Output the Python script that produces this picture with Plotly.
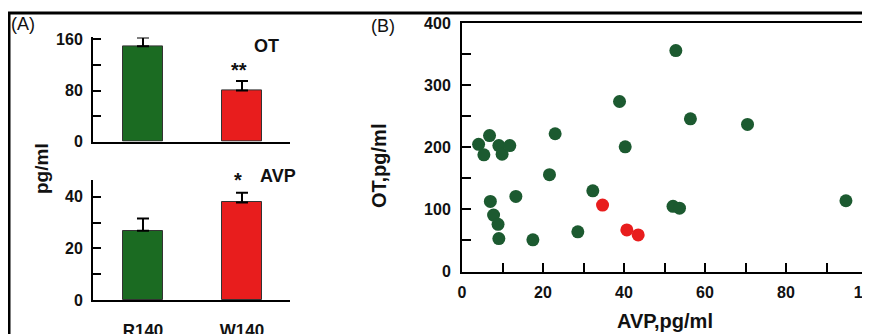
import plotly.graph_objects as go

# page body has an 8px margin, so the figure is drawn 8px smaller and offset
OFF = 8
W, H = 870 - OFF, 334 - OFF

# ---- data ----
groups = ["R140", "W140"]
ot_mean = [149, 80]
ot_err = [14, 15]
avp_mean = [26.8, 37.8]
avp_err = [4.8, 3.8]
bar_colors = ["#1b6b22", "#e81d1d"]

green_avp = [4.1, 5.4, 6.8, 9.1, 9.9, 11.8, 7.0, 7.8, 8.9, 9.1, 13.3, 17.5, 21.6, 23.0,
             28.6, 32.3, 38.9, 40.3, 52.8, 52.1, 53.7, 56.4, 70.5, 94.8]
green_ot = [205, 188, 219, 203, 189, 203, 113, 91, 76, 53, 121, 51, 156, 222,
            64, 130, 274, 201, 356, 105, 102, 246, 237, 114]
red_avp = [34.7, 40.7, 43.5]
red_ot = [107, 67, 59]

xpos = [1, 2]

def px_x(p):
    return (p - OFF) / W

def px_y(p):
    return 1 - (p - OFF) / H

fig = go.Figure()

fig.add_trace(go.Bar(x=xpos, y=ot_mean, width=0.4, marker=dict(color=bar_colors, line=dict(color="#333", width=1)),
                     error_y=dict(type="data", array=ot_err, arrayminus=[0, 0], symmetric=False,
                                  color="black", thickness=2, width=6),
                     xaxis="x", yaxis="y", showlegend=False))
fig.add_trace(go.Bar(x=xpos, y=avp_mean, width=0.4, marker=dict(color=bar_colors, line=dict(color="#333", width=1)),
                     error_y=dict(type="data", array=avp_err, arrayminus=[0, 0], symmetric=False,
                                  color="black", thickness=2, width=6),
                     xaxis="x2", yaxis="y2", showlegend=False))
fig.add_trace(go.Scatter(x=green_avp, y=green_ot, mode="markers",
                         marker=dict(color="#1c5a30", size=13), xaxis="x3", yaxis="y3", showlegend=False))
fig.add_trace(go.Scatter(x=red_avp, y=red_ot, mode="markers",
                         marker=dict(color="#e81d1d", size=13), xaxis="x3", yaxis="y3", showlegend=False))

FAM = "Liberation Sans"
tfA = dict(family=FAM, size=16, color="#111", weight="bold")
tfB = dict(family=FAM, size=16, color="#111", weight="bold")
axcommon = dict(showline=True, linecolor="black", linewidth=2, showgrid=False, zeroline=False)

xa_dom = [px_x(93), px_x(290)]
fig.update_layout(
    width=W, height=H, margin=dict(l=0, r=0, t=0, b=0, autoexpand=False),
    paper_bgcolor="white", plot_bgcolor="white",
    font=dict(family=FAM, color="#111"),
    bargap=0,
    xaxis=dict(domain=xa_dom, range=[0.495, 2.485], anchor="y", showticklabels=False, ticks="", **axcommon),
    yaxis=dict(domain=[px_y(141.7), px_y(37.4)], range=[0, 163], anchor="x",
               tickvals=[0, 40, 80, 120, 160], ticktext=["0", "", "80", "", "160"],
               ticks="inside", ticklen=8, tickwidth=2, tickcolor="black",
               tickfont=tfA, ticklabelstandoff=5, **axcommon),
    xaxis2=dict(domain=xa_dom, range=[0.495, 2.485], anchor="y2", tickvals=xpos, ticktext=groups, ticks="",
                tickfont=dict(family=FAM, size=17, color="#111", weight="bold"),
                ticklabelstandoff=14, ticklabeloverflow="allow", **axcommon),
    yaxis2=dict(domain=[px_y(300), px_y(180)], range=[0, 46.5], anchor="x2",
                tickvals=[0, 10, 20, 30, 40], ticktext=["0", "", "20", "", "40"],
                ticks="inside", ticklen=8, tickwidth=2, tickcolor="black",
                tickfont=tfA, ticklabelstandoff=5, **axcommon),
    xaxis3=dict(domain=[px_x(462), px_x(867)], range=[0, 100], anchor="y3",
                tickvals=[0, 10, 20, 30, 40, 50, 60, 70, 80, 90, 100],
                ticktext=["0", "", "20", "", "40", "", "60", "", "80", "", "100"],
                ticks="inside", ticklen=9, tickwidth=2, tickcolor="black", mirror=True,
                tickfont=tfB, ticklabelstandoff=5, ticklabeloverflow="allow", **axcommon),
    yaxis3=dict(domain=[px_y(271.5), px_y(23.3)], range=[0, 400], anchor="x3",
                tickvals=[0, 50, 100, 150, 200, 250, 300, 350, 400],
                ticktext=["0", "", "100", "", "200", "", "300", "", "400"],
                ticks="inside", ticklen=9, tickwidth=2, tickcolor="black", mirror=True,
                tickfont=tfB, ticklabelstandoff=6, **axcommon),
)

def ann(text, x, y, size=17, bold=True, xanchor="center", angle=0):
    fig.add_annotation(text=("<b>%s</b>" % text) if bold else text, x=px_x(x), y=px_y(y),
                       xref="paper", yref="paper", showarrow=False, xanchor=xanchor, yanchor="middle",
                       textangle=angle, font=dict(family=FAM, size=size, color="#111"))

ann("OT", 266, 46, 18)
ann("**", 239, 70, 20)
ann("*", 238, 180, 20)
ann("AVP", 278, 176, 18)
ann("(A)", 9, 24, 18, bold=False, xanchor="left")
ann("(B)", 369, 26, 18, bold=False, xanchor="left")
ann("pg/ml", 41, 169, 19, angle=-90)
ann("OT,pg/ml", 379, 166, 20, angle=-90)
ann("AVP,pg/ml", 665, 321, 20)

fig.add_shape(type="line", xref="paper", yref="paper", x0=px_x(8), x1=1, y0=px_y(13), y1=px_y(13),
              line=dict(color="black", width=3))
fig.add_shape(type="line", xref="paper", yref="paper", x0=px_x(9), x1=px_x(9), y0=px_y(13), y1=0,
              line=dict(color="black", width=3))

fig.write_html("out.html")
